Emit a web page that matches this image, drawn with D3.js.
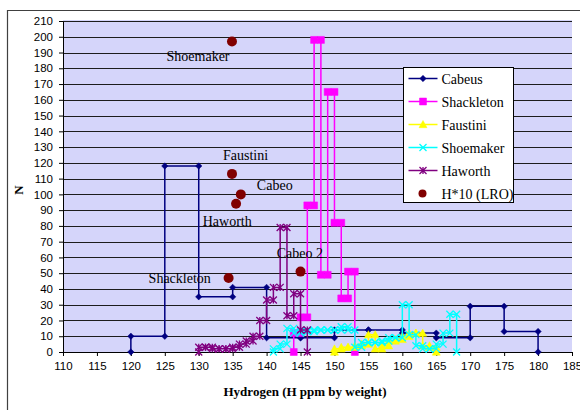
<!DOCTYPE html>
<html><head><meta charset="utf-8">
<script src="https://cdn.jsdelivr.net/npm/d3@7"></script>
<style>body{margin:0;background:#fff}svg{display:block}</style>
</head><body>
<svg id="c" width="580" height="410"></svg>
<script>
// ---- data ----
const xTicks = [110,115,120,125,130,135,140,145,150,155,160,165,170,175,180,185];
const yTicks = [0,10,20,30,40,50,60,70,80,90,100,110,120,130,140,150,160,170,180,190,200,210];

const cabeusEdges = [120,125,130,135,140,145,150,155,160,165,170,175,180];
const cabeusN     = [10,118,35,41,9,9,14,14,12,9,29,13];

const shackletonEdges = [144,145,146,147,148,149,150,151,152,153];
const shackletonN     = [12,22,93,198,49,165,82,34,51];

const faustiniEdges = [150,151,152,153,154,155,156,157,158,159,160,161,162,163,164,165];
const faustiniN     = [2,3,3,4,5,11,2,4,7,8,10,12,12,4,3];

const shoemakerEdges = [141,142,143,144,145,146,147,148,149,150,151,152,153,154,155,156,157,158,159,160,161,162,163,164,165,166,167,168];
const shoemakerN     = [2,5,15,12,13,13,14,14,14,14,16,14,3,6,6,6,7,9,9,30,11,4,2,2,5,12,24];

const haworthEdges = [130,131,132,133,134,135,136,137,138,139,140,141,142,143,144,145,146];
const haworthN     = [3,3,2,2,2,3,5,7,10,20,33,41,79,23,37,14];

const lroNames = ["Shoemaker","Faustini","Cabeo","Haworth","Cabeo 2","Shackleton"];
const lroH     = [134.9,134.9,136.2,135.5,145.0,134.4];
const lroN     = [197,113,100,94,51,47];
const lroLabelX = [129.9,136.9,141.2,134.2,144.9,127.2];
const lroLabelN = [184.5,121.8,102.8,80,59.6,43.8];

const seriesNames = ["Cabeus","Shackleton","Faustini","Shoemaker","Haworth","H*10 (LRO)"];

// ---- chart ----
const svg = d3.select("#c");
const x = d3.scaleLinear().domain([110,185]).range([63,572]);
const y = d3.scaleLinear().domain([0,210]).range([352,21]);

// outer border
svg.append("path").attr("d","M7.5,410 L7.5,10.5 L580,10.5").attr("fill","none").attr("stroke","#404040").attr("stroke-width",1.2);

// plot background
svg.append("rect").attr("x",x(110)).attr("y",y(210)-1).attr("width",x(185)-x(110)).attr("height",y(0)-y(210)+1).attr("fill","#d5d5fa");

// gridlines
svg.append("g").selectAll("line").data(yTicks.filter(d=>d>0)).join("line")
  .attr("x1",x(110)).attr("x2",x(185)).attr("y1",d=>Math.round(y(d))+0.5).attr("y2",d=>Math.round(y(d))+0.5)
  .attr("stroke","#1c1c1c").attr("stroke-width",1.1);

// axes
const font = "'Liberation Sans', Arial, sans-serif";
const gy = svg.append("g").attr("transform",`translate(${x(110)},0)`)
  .call(d3.axisLeft(y).tickValues(yTicks).tickSize(4).tickPadding(6).tickSizeOuter(0));
const gx = svg.append("g").attr("transform",`translate(0,${y(0)})`)
  .call(d3.axisBottom(x).tickValues(xTicks).tickSize(4).tickPadding(6).tickSizeOuter(0));
[gx,gy].forEach(g=>{
  g.selectAll("text").attr("font-family",font).attr("font-size","11.5px").attr("fill","#000");
  g.selectAll("line,path").attr("stroke","#000");
});

// axis titles
const serif = "'Liberation Serif','Times New Roman',serif";
svg.append("text").attr("x",305).attr("y",396).attr("text-anchor","middle")
  .attr("font-family",serif).attr("font-weight","bold").attr("font-size","13px").text("Hydrogen (H ppm by weight)");
svg.append("text").attr("transform","translate(23,190) rotate(-90)").attr("text-anchor","middle")
  .attr("font-family",serif).attr("font-weight","bold").attr("font-size","13px").text("N");

// markers
function markerPath(type, s){
  switch(type){
    case "diamond": return `M0,${-s}L${s},0L0,${s}L${-s},0Z`;
    case "square": return `M${-s},${-s}H${s}V${s}H${-s}Z`;
    case "triangle": return `M0,${-s}L${s},${s*0.8}L${-s},${s*0.8}Z`;
    case "x": return `M${-s},${-s}L${s},${s}M${s},${-s}L${-s},${s}`;
    case "star": return `M${-s},${-s}L${s},${s}M${s},${-s}L${-s},${s}M0,${-s}V${s}`;
  }
}
function stepPoints(edges, vals){
  const pts = [[edges[0],0]];
  vals.forEach((v,i)=>{ pts.push([edges[i],v]); pts.push([edges[i+1],v]); });
  pts.push([edges[edges.length-1],0]);
  return pts;
}
const series = [
  {edges:cabeusEdges, vals:cabeusN, color:"#000080", marker:"diamond", ms:3.2, filled:true},
  {edges:shackletonEdges, vals:shackletonN, color:"#ff00ff", marker:"square", ms:3.5, filled:true},
  {edges:faustiniEdges, vals:faustiniN, color:"#ffff00", marker:"triangle", ms:4, filled:true},
  {edges:shoemakerEdges, vals:shoemakerN, color:"#00ffff", marker:"x", ms:3.5, filled:false},
  {edges:haworthEdges, vals:haworthN, color:"#800080", marker:"star", ms:3.5, filled:false}
];
const line = d3.line().x(d=>x(d[0])).y(d=>y(d[1]));
series.forEach(s=>{
  const pts = stepPoints(s.edges, s.vals);
  const g = svg.append("g");
  g.append("path").attr("d",line(pts)).attr("fill","none").attr("stroke",s.color).attr("stroke-width",1.5);
  g.selectAll("path.m").data(pts).join("path").attr("class","m")
    .attr("transform",d=>`translate(${x(d[0])},${y(d[1])})`)
    .attr("d",markerPath(s.marker,s.ms))
    .attr("fill",s.filled?s.color:"none").attr("stroke",s.color).attr("stroke-width",s.filled?0.5:1.3);
});

// LRO points
svg.append("g").selectAll("circle").data(lroN).join("circle")
  .attr("cx",(d,i)=>x(lroH[i])).attr("cy",d=>y(d)).attr("r",5).attr("fill","#800000");
svg.append("g").selectAll("text").data(lroNames).join("text")
  .attr("x",(d,i)=>x(lroLabelX[i])).attr("y",(d,i)=>y(lroLabelN[i])).attr("text-anchor","middle")
  .attr("font-family",serif).attr("font-size","14px").attr("fill","#000").text(d=>d);

// legend
const lg = svg.append("g").attr("transform","translate(403.5,67.5)");
lg.append("rect").attr("width",110).attr("height",135).attr("fill","#fff").attr("stroke","#000").attr("stroke-width",1);
const legendItems = series.concat([{color:"#800000", marker:"circle"}]);
legendItems.forEach((s,i)=>{
  const yy = 11 + i*23;
  const g = lg.append("g").attr("transform",`translate(0,${yy})`);
  if(s.marker==="circle"){
    g.append("circle").attr("cx",19).attr("cy",0).attr("r",4).attr("fill",s.color);
  } else {
    g.append("line").attr("x1",5).attr("x2",34).attr("y1",0).attr("y2",0).attr("stroke",s.color).attr("stroke-width",1.5);
    g.append("path").attr("transform","translate(19.5,0)").attr("d",markerPath(s.marker,s.ms))
      .attr("fill",s.filled?s.color:"none").attr("stroke",s.color).attr("stroke-width",s.filled?0.5:1.3);
  }
  g.append("text").attr("x",38).attr("y",5).attr("font-family",serif).attr("font-size","14px").text(seriesNames[i]);
});
</script>
</body></html>
